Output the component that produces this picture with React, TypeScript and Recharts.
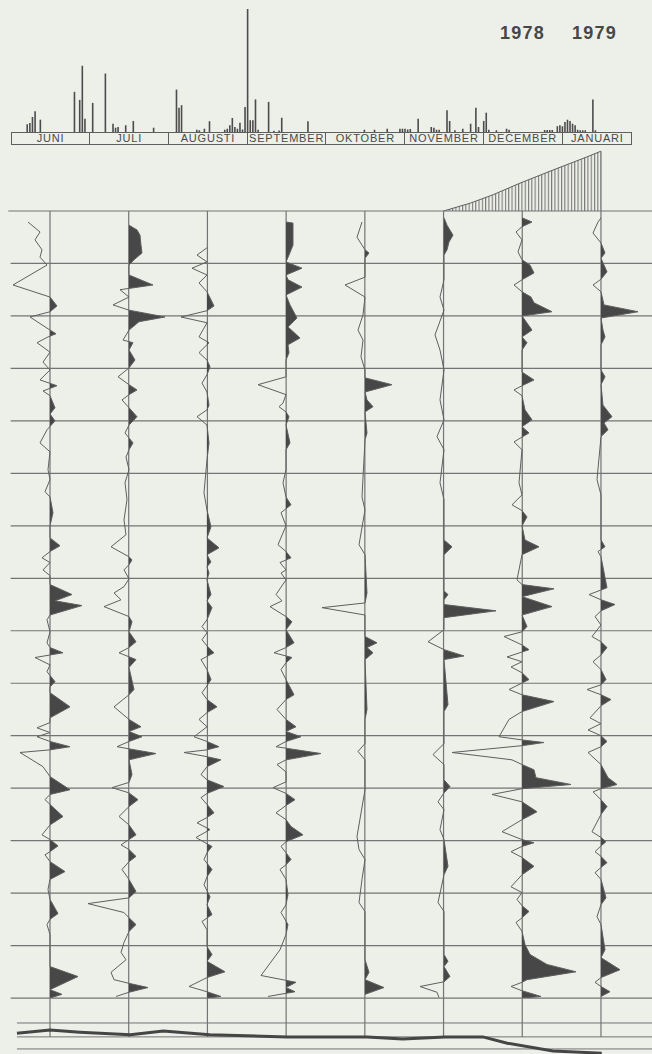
import React from "react";
import { BarChart, Bar, ComposedChart, Area, Line, XAxis, YAxis, ReferenceLine } from "recharts";

// months (one column per month, one box per month in the rain strip)
const MONTHS = ["JUNI", "JULI", "AUGUSTI", "SEPTEMBER", "OKTOBER", "NOVEMBER", "DECEMBER", "JANUARI"];
const DAYS_IN_MONTH = [30, 31, 31, 30, 31, 30, 31, 31];
const YEARS = ["1978", "1979"];

// daily precipitation [day, mm], only rainy days
const RAIN_JUN = [[7, 3.1], [8, 3.6], [9, 6], [10, 8.3], [12, 4.9], [25, 16], [27, 12.8], [28, 26.4], [29, 5.3]];
const RAIN_JUL = [[2, 11.6], [7, 23.3], [10, 3.3], [11, 1.7], [12, 2.0], [15, 2.7], [18, 4.4], [26, 1.7]];
const RAIN_AUG = [[4, 16.9], [5, 9.7], [6, 10.7], [12, 0.9], [13, 0.7], [15, 1.3], [17, 4.3], [23, 0.9], [24, 1.3], [25, 2.7], [26, 5.6], [27, 2.0], [28, 1.3], [29, 3.7], [30, 1.0], [31, 10]];
const RAIN_SEP = [[1, 49], [2, 4.7], [3, 4.7], [4, 13], [5, 0.9], [9, 12], [11, 0.5], [13, 0.6], [14, 5.7], [24, 4.3]];
const RAIN_OKT = [[16, 0.9], [20, 0.9], [25, 1.3], [30, 1.3], [31, 1.3]];
const RAIN_NOV = [[1, 1.3], [2, 1.0], [3, 1.2], [6, 5.3], [11, 2.0], [12, 1.7], [13, 0.9], [14, 0.9], [17, 8.7], [18, 4.4], [20, 0.7], [23, 1.3], [26, 3.3], [28, 9.7], [29, 2.0]];
const RAIN_DEC = [[1, 4.4], [2, 7.7], [3, 0.9], [6, 0.7], [10, 1.3], [11, 0.9], [25, 0.8], [26, 0.8], [27, 0.8], [28, 0.8], [30, 2.3], [31, 2.7]];
const RAIN_JAN = [[1, 2.3], [2, 4], [3, 4.9], [4, 4.4], [5, 3.3], [6, 2.7], [7, 0.9], [8, 0.7], [9, 0.7], [10, 0.7], [13, 13], [14, 0.7]];
const RAIN = [RAIN_JUN, RAIN_JUL, RAIN_AUG, RAIN_SEP, RAIN_OKT, RAIN_NOV, RAIN_DEC, RAIN_JAN];

// traces per month: [depth (row = 10), deviation]; positive = filled side
const TRACE_JUN = [[2.1, -22], [4.0, -10], [5.5, -15], [7.4, -8], [8.8, -10], [10.3, -3], [14.1, -37], [16.4, 0], [18.1, 7], [19.2, 0], [20.2, -20], [22.7, 0], [23.4, 6], [24.0, -2], [25.1, -13], [26.9, 0], [28.8, -7], [30.3, 0], [32.2, -10], [33.3, 7], [34.3, -7], [35.2, 0], [37.5, 5], [38.7, 0], [40.0, 5], [41.7, -3], [44.2, -10], [45.9, 0], [49.3, -2], [51.2, 0], [53.5, -5], [54.5, 0], [57.5, 3], [60.0, 0], [62.3, 0], [63.8, 10], [64.9, 0], [66.1, -8], [67.0, 0], [68.4, -7], [69.5, 0], [71.2, 0], [73.1, 22], [74.3, 5], [75.2, 32], [77.0, 0], [77.9, -3], [80.2, 0], [82.3, -3], [83.2, 0], [84.2, 13], [85.1, -15], [86.5, 0], [87.8, -3], [89.7, 5], [90.7, 0], [91.8, 0], [94.5, 20], [96.6, 0], [97.5, 0], [98.5, -13], [99.4, 0], [100.2, -13], [101.1, 0], [102.1, 20], [102.7, 0], [103.2, -30], [105.9, -7], [107.8, 0], [110.3, 20], [111.2, 0], [112.2, -5], [113.1, 0], [115.4, 13], [117.0, 0], [118.9, -8], [119.8, 0], [121.0, 8], [122.1, 0], [122.7, -5], [124.0, 0], [125.9, 15], [127.4, 0], [129.3, -2], [131.2, 0], [133.9, 8], [135.0, 0], [136.0, -3], [137.9, 0], [144.0, 0], [145.9, 28], [148.4, 0], [149.3, 12], [150, 0]];
const TRACE_JUL = [[2.7, 0], [3.6, 8], [4.6, 11], [6.5, 12], [8.0, 13], [9.3, 5], [10.3, 0], [12.2, 0], [14.1, 24], [15.0, -9], [16.4, 0], [17.9, -16], [18.9, 0], [20.2, 36], [21.1, 10], [22.7, 0], [24.6, -6], [25.1, 4], [26.5, 0], [28.4, 6], [29.9, 0], [31.6, -11], [33.1, 0], [34.1, 8], [35.0, 0], [36.0, -7], [37.5, 0], [39.2, 8], [40.8, 0], [42.3, -4], [44.2, 4], [45.5, 0], [46.9, -3], [49.3, 0], [51.8, -4], [55.0, -2], [58.9, -5], [61.7, -3], [64.0, -18], [65.9, 0], [66.5, 3], [67.4, 0], [68.4, -5], [70.1, 0], [71.6, -5], [72.8, -15], [74.1, -8], [75.4, -25], [77.3, 0], [78.3, 3], [80.2, 0], [82.1, 7], [83.2, 0], [84.2, -10], [85.5, 7], [87.0, 0], [91.2, 5], [92.2, 0], [94.5, -15], [96.9, 0], [98.3, 12], [99.2, 0], [100.2, 13], [101.1, 0], [102.1, -12], [103.4, 27], [104.6, 0], [107.4, 3], [108.9, 0], [109.9, -17], [110.9, 0], [112.2, 9], [113.5, 0], [115.4, -10], [117.0, 0], [118.9, 7], [119.8, 0], [120.8, -8], [121.7, 0], [123.0, 7], [124.0, 0], [125.5, -7], [127.4, 0], [129.7, 7], [130.9, 0], [132.0, -41], [133.7, -5], [134.7, 0], [136.0, 7], [137.3, 0], [139.4, -5], [141.3, -8], [142.7, -3], [145.1, -18], [146.5, -15], [147.2, 0], [148.0, 19], [148.9, 0], [149.7, -13]];
const TRACE_AUG = [[7.0, 0], [8.4, -10], [9.7, 0], [10.9, -15], [12.2, 0], [13.7, -8], [15.4, 0], [18.1, 7], [19.0, 0], [20.2, -26], [21.3, 0], [24.0, -8], [25.1, 2], [27.0, -8], [28.4, 0], [29.7, 3], [31.2, 0], [32.8, -5], [34.5, 0], [37.0, 2], [37.9, 0], [39.2, -10], [40.8, 0], [44.2, 2], [47.4, 0], [53.7, -3], [57.0, 0], [60.2, 4], [62.3, 0], [64.2, 12], [65.5, 0], [66.9, 4], [67.8, 0], [69.0, 2], [70.3, 0], [73.1, 4], [74.3, 0], [75.6, 5], [77.9, 0], [79.2, -5], [80.4, 0], [81.7, -5], [82.9, 0], [84.2, 7], [85.5, -6], [87.4, 0], [89.3, 4], [90.5, 0], [91.8, -5], [93.1, 0], [94.5, 10], [95.6, 0], [96.9, -8], [98.3, 0], [100.2, -13], [101.1, 0], [102.1, 12], [102.7, 0], [103.2, -23], [104.0, 0], [104.6, 14], [105.9, 0], [107.4, -6], [108.4, 0], [109.7, 17], [111.0, 0], [111.8, -6], [113.1, 0], [114.7, 7], [115.6, 0], [116.6, -10], [117.9, 3], [119.4, -11], [120.6, 0], [121.1, 5], [122.3, 0], [123.6, -3], [125.5, 5], [126.9, 0], [128.4, -3], [130.7, 3], [132.2, 0], [134.1, 5], [135.4, -5], [137.0, 0], [140.2, 0], [141.7, 5], [143.0, 0], [145.0, 18], [146.1, 0], [147.8, -18], [148.8, 0], [149.7, 14], [150, 0]];
const TRACE_SEP = [[2.1, 0], [2.3, 7], [6.5, 7], [8.4, 3], [9.7, 0], [10.9, 16], [12.2, 0], [13.1, 2], [14.5, 16], [16.0, 0], [17.9, 4], [20.4, 11], [22.1, 2], [24.2, 14], [25.5, 2], [27.0, 3], [28.4, 0], [31.6, 0], [33.1, -28], [35.0, 0], [36.6, -3], [37.3, -7], [38.3, 0], [39.2, 3], [40.8, 0], [44.2, 4], [45.5, 0], [49.3, 0], [51.8, -3], [54.5, 0], [56.0, 5], [57.5, -5], [60.0, 0], [63.6, -8], [64.9, 0], [66.1, 5], [67.0, -6], [68.4, 0], [69.0, -5], [70.3, 0], [73.1, -10], [74.3, -4], [75.4, -16], [77.3, 0], [78.3, 6], [79.8, 0], [82.3, 8], [83.2, 0], [84.2, -12], [85.1, 6], [86.1, 0], [87.4, -5], [89.3, 0], [92.2, 8], [93.1, 0], [95.0, -9], [96.9, 0], [98.3, 10], [99.2, 0], [100.2, 15], [101.1, 0], [102.1, -10], [103.4, 35], [104.6, 0], [105.5, -9], [106.9, 0], [108.8, 0], [109.9, -13], [111.0, 0], [112.2, 9], [113.3, 0], [114.7, -10], [116.0, 0], [117.3, 5], [118.9, 17], [120.2, 0], [121.1, -5], [122.3, 0], [123.6, 5], [124.6, 0], [125.5, -6], [127.4, 0], [130.3, 2], [132.2, 0], [133.7, -5], [136.0, 2], [137.9, 0], [140.8, -6], [145.7, -25], [147.0, 10], [148.0, 0], [148.8, 9], [149.1, 0], [149.7, -18]];
const TRACE_OKT = [[2.1, -3], [5.0, -8], [6.5, -3], [7.4, 0], [8.0, 4], [9.0, 0], [12.6, 0], [14.1, -20], [16.4, 0], [19.8, -2], [22.7, -7], [24.6, -2], [27.8, -4], [30.3, 0], [31.8, 0], [33.1, 27], [34.5, 0], [36.0, 2], [37.3, 8], [38.3, 0], [42.3, 2], [43.6, 0], [54.5, -3], [57.0, 0], [63.6, -6], [65.5, 0], [72.8, 2], [74.7, 0], [75.6, -43], [77.0, 0], [81.1, 0], [82.3, 12], [83.2, 2], [84.2, 8], [85.5, 0], [95.0, 2], [96.9, 0], [101.5, 0], [103.0, -7], [104.6, 0], [110.3, 0], [119.2, -8], [121.7, -6], [123.6, 0], [127.4, -3], [131.8, -6], [133.5, 0], [142.7, 0], [145.1, 4], [146.5, 0], [148.0, 19], [149.3, 0]];
const TRACE_NOV = [[1.3, 0], [2.7, 3], [4.6, 9], [5.9, 5], [7.4, 3], [8.4, 0], [13.1, 0], [16.4, -4], [18.9, 0], [23.6, -9], [26.5, -4], [30.3, 0], [36.0, -4], [39.8, 0], [43.0, -7], [45.5, 0], [51.8, -4], [55.0, 0], [62.7, 0], [64.0, 8], [65.5, 0], [72.4, 0], [73.1, 4], [74.1, 0], [75.0, 0], [76.2, 52], [77.5, 0], [79.8, 0], [82.1, -16], [83.6, 0], [84.8, 20], [85.5, 0], [94.1, 4], [95.4, 0], [101.5, 0], [103.6, -11], [105.5, 0], [108.4, 0], [109.7, 6], [110.9, 0], [112.6, -6], [114.1, 0], [117.9, -4], [119.8, 0], [124.9, 4], [126.5, 0], [131.8, -6], [133.5, 0], [141.7, 0], [143.0, 4], [144.0, 0], [145.9, 6], [146.9, 0], [147.8, -24], [148.9, -7], [149.9, -5]];
const TRACE_DEC = [[1.3, 0], [2.1, 10], [3.0, 0], [4.0, -6], [5.5, 0], [7.8, -4], [9.3, 0], [10.3, 8], [11.8, 12], [13.1, 0], [14.1, -8], [15.4, 0], [16.4, 9], [17.5, 12], [19.2, 30], [20.0, 0], [22.7, 10], [24.0, 0], [25.1, 5], [26.5, 0], [30.7, 0], [32.2, 12], [33.3, 0], [34.1, -8], [35.2, 0], [37.9, 3], [39.8, 10], [41.1, 0], [42.3, 7], [44.0, -8], [45.5, 0], [51.8, -3], [54.1, 0], [56.0, -10], [57.1, 0], [58.3, 5], [60.0, 0], [62.7, 3], [64.0, 17], [65.5, 0], [70.3, -5], [71.2, 0], [72.0, 32], [73.5, 0], [75.4, 30], [77.0, 0], [79.2, 5], [80.2, 0], [81.1, -18], [82.7, 0], [83.6, 7], [85.0, -15], [85.9, 0], [86.9, -11], [88.0, 0], [89.3, 7], [91.2, -13], [92.2, 0], [93.5, 32], [95.4, 0], [96.9, -13], [100.2, -23], [100.8, 0], [101.3, 22], [101.9, 0], [103.2, -70], [104.6, -10], [105.5, 0], [106.5, 12], [108.0, 14], [109.3, 49], [110.1, 0], [111.2, -30], [112.6, 0], [114.5, 15], [116.0, 0], [118.3, -20], [119.8, 0], [120.4, 12], [121.1, 0], [122.1, -11], [123.2, 0], [124.9, 12], [126.5, 0], [128.8, -11], [129.9, 0], [131.2, -5], [132.4, 0], [133.5, 7], [134.7, 0], [135.6, -6], [137.3, 0], [139.8, 3], [141.7, 8], [143.6, 25], [145.0, 54], [146.5, 5], [147.0, 0], [147.8, -11], [148.6, 0], [149.7, 19], [150, 0]];
const TRACE_JAN = [[1.3, 0], [2.1, -3], [4.2, -8], [6.1, 0], [8.0, 4], [9.0, 0], [10.3, 3], [11.6, 6], [13.0, 0], [14.1, -8], [15.4, 0], [17.9, 3], [19.2, 37], [20.4, 0], [22.7, 2], [24.0, 4], [25.5, 0], [30.3, 0], [31.6, 4], [33.1, 0], [37.0, 2], [39.2, 11], [40.4, 3], [41.7, 7], [43.0, 0], [51.2, -4], [54.1, 0], [62.7, 0], [64.0, 4], [64.9, -3], [65.9, 0], [71.8, 6], [73.1, -12], [74.1, 0], [75.0, 14], [76.2, 0], [77.3, -6], [78.9, 0], [81.1, -9], [82.1, 0], [83.2, 6], [84.6, 0], [85.9, -8], [87.4, 0], [89.3, 5], [90.3, 0], [91.2, -14], [92.2, 0], [93.1, 10], [94.3, 0], [96.6, -11], [97.7, 0], [98.9, -13], [100.0, 0], [101.1, 6], [102.1, 0], [103.2, -13], [105.5, 0], [108.0, 7], [109.3, 16], [110.1, 0], [110.7, -8], [112.2, 0], [113.5, 6], [115.0, 0], [118.3, -9], [119.4, 0], [120.2, 5], [121.0, 0], [122.1, -6], [123.0, 0], [124.2, 6], [125.1, 0], [126.1, -6], [127.4, 0], [130.9, 5], [132.2, 0], [134.5, -4], [136.0, 0], [140.8, 4], [142.3, 0], [144.6, 19], [146.1, 0], [147.0, -6], [147.8, 0], [148.8, 9], [149.7, 0]];
const TRACES = [TRACE_JUN, TRACE_JUL, TRACE_AUG, TRACE_SEP, TRACE_OKT, TRACE_NOV, TRACE_DEC, TRACE_JAN];

// wedge over nov-jan [month, rows above grid] and bottom level line [month, row]
const WEDGE = [[5.0, 0], [5.34, 0.15], [5.63, 0.31], [5.97, 0.53], [6.39, 0.78], [6.82, 1.03], [7.0, 1.14]];
const LEVEL = [[-0.42, 15.67], [0, 15.61], [0.38, 15.65], [1.02, 15.7], [1.44, 15.63], [2.03, 15.7], [3.01, 15.74], [3.56, 15.74], [4.03, 15.74], [4.48, 15.78], [5.02, 15.74], [5.5, 15.74], [5.81, 15.86], [6.39, 16.01], [7.01, 16.05]];
const EXTRA_LINES = [15.475, 15.74, 15.97];

// layout
const W = 652;
const H = 1054;
const COL0 = 50;
const COL_PX = 78.71;
const ROW_PX = 52.47;
const GRID_TOP = 211;
const X0 = -COL0 / COL_PX;
const X1 = (W - COL0) / COL_PX;
const Y0 = -GRID_TOP / ROW_PX;
const Y1 = (H - GRID_TOP) / ROW_PX;
const HALF = 120;
const RAIN_BASE = 132;

const INK = "#5e5e5e";
const FILL = "#474747";
const GRID = "#747474";
const PAPER = "#edefe9";

const rainTable = RAIN.flatMap((month, k) =>
  month.map(([day, mm]) => ({ m: k - 0.5 + (day - 0.5) / DAYS_IN_MONTH[k], mm }))
);

const frameTable = [
  ...LEVEL.map(([m, lvl]) => ({ m, lvl })),
  ...WEDGE.map(([m, wedge]) => ({ m, wedge })),
].sort((a, b) => a.m - b.m);

const monthX = (u: number) => COL0 + u * COL_PX;

function Trace({ points, k }: { points: number[][]; k: number }) {
  const data = points.map(([d, v]) => ({ d, v }));
  return (
    <div style={{ position: "absolute", left: monthX(k) - HALF, top: GRID_TOP }}>
      <ComposedChart layout="vertical" width={HALF * 2} height={15 * ROW_PX} data={data} margin={{ top: 0, right: 0, bottom: 0, left: 0 }}>
        <defs>
          <linearGradient id={`pos${k}`} gradientUnits="userSpaceOnUse" x1={0} y1={0} x2={HALF * 2} y2={0}>
            <stop offset="0.5" stopColor={FILL} stopOpacity={0} />
            <stop offset="0.5" stopColor={FILL} stopOpacity={1} />
          </linearGradient>
        </defs>
        <XAxis type="number" domain={[-HALF, HALF]} hide allowDataOverflow />
        <YAxis type="number" dataKey="d" domain={[0, 150]} hide allowDataOverflow />
        <Area
          type="linear"
          dataKey="v"
          baseValue={0}
          stroke={INK}
          strokeWidth={1}
          fill={`url(#pos${k})`}
          fillOpacity={1}
          dot={false}
          activeDot={false}
          isAnimationActive={false}
        />
      </ComposedChart>
    </div>
  );
}

export default function App() {
  const rows = Array.from({ length: 16 }, (_, i) => i);
  const edges = MONTHS.map((_, k) => monthX(k - 0.5));
  return (
    <div style={{ position: "relative", width: W, height: H, overflow: "hidden", background: PAPER }}>
      <style>{`body{margin:0;background:${PAPER}}`}</style>

      {/* grid, wedge and level line */}
      <div style={{ position: "absolute", left: 0, top: 0 }}>
        <ComposedChart width={W} height={H} data={frameTable} margin={{ top: 0, right: 0, bottom: 0, left: 0 }}>
          <defs>
            <pattern id="hatch" width={3.3} height={10} patternUnits="userSpaceOnUse">
              <line x1={0.6} y1={0} x2={0.6} y2={10} stroke={INK} strokeWidth={0.9} />
            </pattern>
          </defs>
          <XAxis type="number" dataKey="m" domain={[X0, X1]} hide allowDataOverflow />
          <YAxis type="number" domain={[Y0, Y1]} reversed hide allowDataOverflow />
          {rows.map((r) => (
            <ReferenceLine key={`r${r}`} segment={[{ x: r === 0 ? -0.53 : -0.5, y: r }, { x: X1, y: r }]} stroke={GRID} strokeWidth={1.2} />
          ))}
          {EXTRA_LINES.map((r) => (
            <ReferenceLine key={`e${r}`} segment={[{ x: -0.42, y: r }, { x: X1, y: r }]} stroke={GRID} strokeWidth={1} />
          ))}
          {MONTHS.map((_, k) => (
            <ReferenceLine
              key={`c${k}`}
              segment={[{ x: k, y: k === 7 ? -1.14 : 0 }, { x: k, y: 15.74 }]}
              stroke={GRID}
              strokeWidth={1.2}
            />
          ))}
          <Area
            type="linear"
            dataKey={(r: any) => (r.wedge === undefined ? null : -r.wedge)}
            baseValue={0}
            connectNulls
            stroke={INK}
            strokeWidth={1}
            fill="url(#hatch)"
            fillOpacity={1}
            dot={false}
            activeDot={false}
            isAnimationActive={false}
          />
          <Line
            type="linear"
            dataKey="lvl"
            connectNulls
            stroke="#454545"
            strokeWidth={3}
            dot={false}
            activeDot={false}
            isAnimationActive={false}
          />
        </ComposedChart>
      </div>

      {/* daily rain */}
      <div style={{ position: "absolute", left: 0, top: 0 }}>
        <BarChart width={W} height={RAIN_BASE} data={rainTable} margin={{ top: 0, right: 0, bottom: 0, left: 0 }}>
          <XAxis type="number" dataKey="m" domain={[X0, X1]} hide allowDataOverflow />
          <YAxis type="number" domain={[0, 52.6]} hide />
          <Bar dataKey="mm" fill="#4c4c4c" barSize={1.6} isAnimationActive={false} />
        </BarChart>
      </div>

      {/* month boxes */}
      <div
        style={{
          position: "absolute",
          left: edges[0],
          top: RAIN_BASE,
          width: 632 - edges[0],
          height: 13,
          border: `1px solid ${INK}`,
          boxSizing: "border-box",
        }}
      />
      {MONTHS.map((name, k) => {
        const left = edges[k];
        const right = k < MONTHS.length - 1 ? edges[k + 1] : 632;
        return (
          <div
            key={name}
            style={{
              position: "absolute",
              left,
              top: RAIN_BASE,
              width: right - left,
              height: 13,
              borderLeft: `1px solid ${INK}`,
              boxSizing: "border-box",
              textAlign: "center",
              font: "11px 'Liberation Sans', Arial, sans-serif",
              letterSpacing: 0.8,
              lineHeight: "13px",
              color: "#4a4a4a",
            }}
          >
            {name}
          </div>
        );
      })}

      {YEARS.map((y, i) => (
        <div
          key={y}
          style={{
            position: "absolute",
            left: i === 0 ? 500 : 572,
            top: 24,
            font: "bold 18px 'Liberation Sans', Arial, sans-serif",
            letterSpacing: 1.2,
            lineHeight: "18px",
            color: "#474747",
          }}
        >
          {y}
        </div>
      ))}

      {TRACES.map((pts, k) => (
        <Trace key={k} points={pts} k={k} />
      ))}
    </div>
  );
}
